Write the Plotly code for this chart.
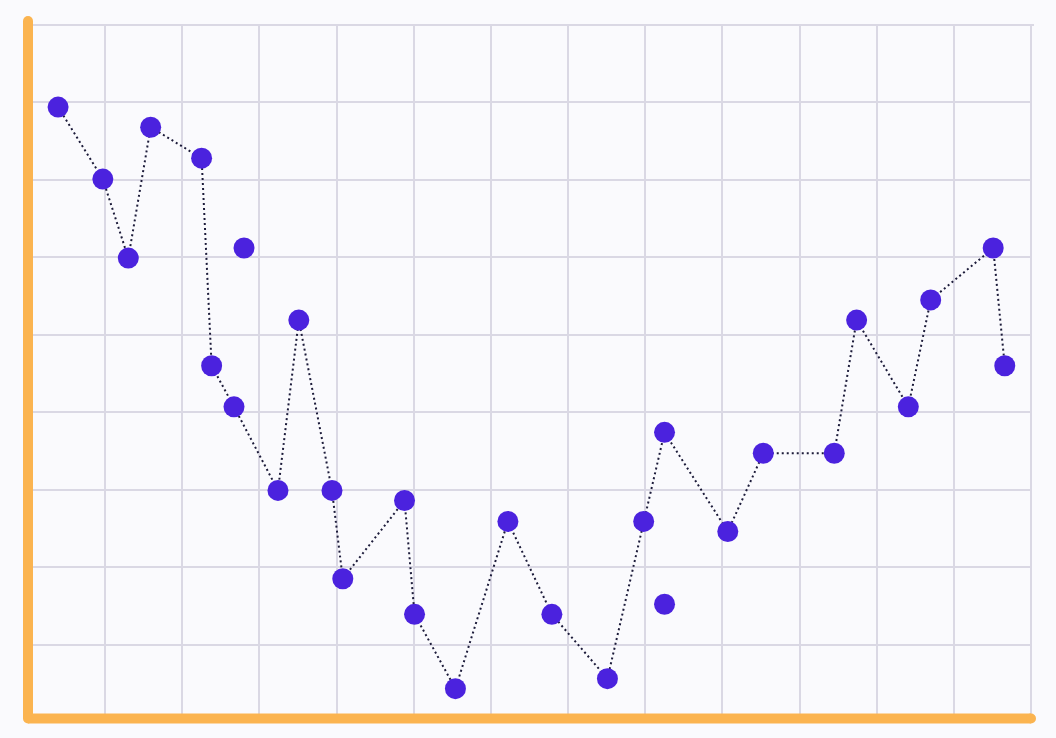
import plotly.graph_objects as go

# main series, joined by the dotted line
x_main = [0.39, 0.97, 1.30, 1.59, 2.25, 2.38, 2.67, 3.24, 3.51, 3.94, 4.08, 4.88, 5.01, 5.54,
          6.22, 6.79, 7.51, 7.98, 8.25, 9.07, 9.53, 10.45, 10.74, 11.41, 11.70, 12.51, 12.66]
y_main = [7.94, 7.01, 5.99, 7.68, 7.28, 4.60, 4.07, 2.99, 5.19, 2.99, 1.85, 2.86, 1.39, 0.43,
          2.59, 1.39, 0.56, 2.59, 3.74, 2.46, 3.47, 3.47, 5.19, 4.07, 5.45, 6.12, 4.60]

# loose points, not on the line
x_loose = [2.80, 8.25]
y_loose = [6.12, 1.52]

X_MAX, Y_MAX = 13, 9
AXIS = "#FBB450"
DOT = "#4B22DE"
GRID = "#DAD8E4"
BG = "#FAFAFD"

fig = go.Figure()
fig.add_trace(go.Scatter(
    x=x_main, y=y_main, mode="lines+markers",
    line=dict(color="#1C1B3A", width=2, dash="2px,3px"),
    marker=dict(size=21, color=DOT, line=dict(width=0)),
    hoverinfo="skip", showlegend=False,
))
fig.add_trace(go.Scatter(
    x=x_loose, y=y_loose, mode="markers",
    marker=dict(size=21, color=DOT, line=dict(width=0)),
    hoverinfo="skip", showlegend=False,
))

# edge grid lines that plotly leaves out, then the thick orange axes with round ends
plot_h = 697
base = 3.5 / plot_h
top = 1 + 4 / plot_h
shapes = [
    dict(type="line", xref="paper", yref="paper", x0=0, x1=1.003, y0=1, y1=1,
         line=dict(color=GRID, width=2), layer="below"),
    dict(type="line", xref="paper", yref="paper", x0=1, x1=1, y0=0, y1=1,
         line=dict(color=GRID, width=2), layer="below"),
    dict(type="line", xref="paper", yref="paper", x0=0, x1=0, y0=base, y1=top,
         line=dict(color=AXIS, width=10)),
    dict(type="line", xref="paper", yref="paper", x0=0, x1=1, y0=base, y1=base,
         line=dict(color=AXIS, width=10)),
]
for cx, cy in [(0, top), (0, base), (1, base)]:
    shapes.append(dict(type="circle", xref="paper", yref="paper",
                       xsizemode="pixel", ysizemode="pixel",
                       xanchor=cx, yanchor=cy, x0=-5, x1=5, y0=-5, y1=5,
                       fillcolor=AXIS, line=dict(width=0)))

fig.update_layout(
    width=1056, height=738,
    margin=dict(l=28, r=25, t=25, b=16),
    paper_bgcolor=BG, plot_bgcolor=BG,
    shapes=shapes,
    xaxis=dict(range=[0, X_MAX], dtick=1, showgrid=True, gridcolor=GRID, gridwidth=2,
               zeroline=False, showticklabels=False, ticks=""),
    yaxis=dict(range=[0, Y_MAX], dtick=1, showgrid=True, gridcolor=GRID, gridwidth=2,
               zeroline=False, showticklabels=False, ticks=""),
)

fig.write_html("out.html", config={"displayModeBar": False},
               post_script="document.body.style.margin='0';document.body.style.background='#FAFAFD';")
